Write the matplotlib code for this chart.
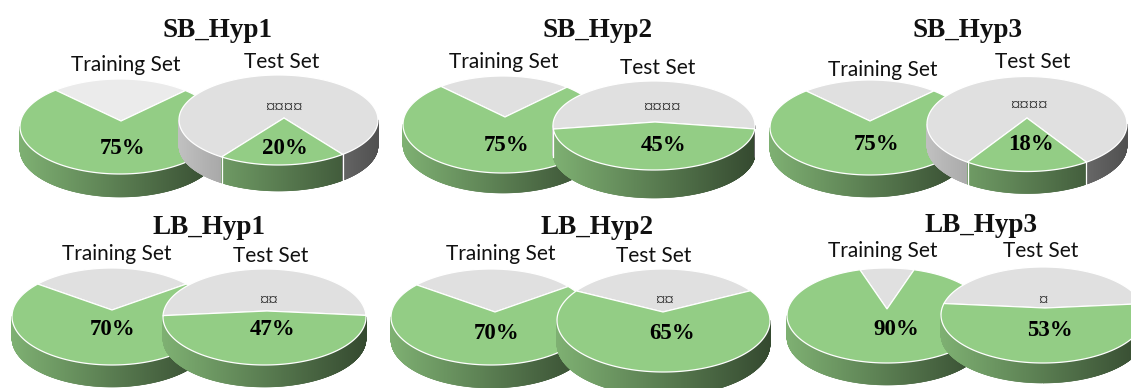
import numpy as np
import matplotlib
matplotlib.use("Agg")
import matplotlib.pyplot as plt
from matplotlib.collections import PolyCollection

# percentages shown on each chart
titles = ["SB_Hyp1", "SB_Hyp2", "SB_Hyp3", "LB_Hyp1", "LB_Hyp2", "LB_Hyp3"]
train_pct = [75, 75, 75, 70, 70, 90]
test_pct = [20, 45, 18, 47, 65, 53]
test_marks = ["¤¤¤¤", "¤¤¤¤", "¤¤¤¤", "¤¤", "¤¤", "¤"]

# pie placement in pixels: cx, cy, rx, ry, depth, apex x, apex y
train_geom = [
    (120, 126.5, 100, 47.5, 23, 121, 121),
    (503, 124.5, 100, 48.5, 20, 505, 117),
    (870, 127.5, 100, 47.5, 22, 870, 121),
    (112, 316.5, 100, 48.5, 22, 112, 310),
    (491, 317, 100, 48, 23, 495, 312),
    (887, 315.5, 100, 47.5, 22, 887, 309),
]
test_geom = [
    (278.5, 120, 99.5, 45, 26, 284, 118),
    (654, 125.5, 101, 44.5, 28, 655, 122),
    (1027, 124, 100, 47.5, 22, 1027, 118),
    (264.5, 317, 101.5, 48, 22, 267, 311),
    (663.5, 320.5, 106.5, 51.5, 24, 663, 312),
    (1043, 315, 102, 48, 20, 1045, 308),
]

# text anchors in pixels: x, baseline y
title_pos = [(217, 37), (597, 37), (968, 37), (209, 234), (597, 234), (981, 232)]
train_label_pos = [(126, 71), (504, 68), (883, 76), (117, 260), (501, 260), (883, 257)]
test_label_pos = [(282, 68), (658, 74), (1033, 68), (271, 262), (654, 262), (1041, 257)]
train_pct_pos = [(123, 154), (507, 151), (877, 150), (113, 335), (497, 339), (896, 335)]
test_pct_pos = [(285, 154), (664, 151), (1031, 150), (273, 335), (672, 339), (1050, 336)]
mark_pos = [(284, 108), (662, 108), (1029, 106), (269, 301), (665, 301), (1043, 301)]

GREEN = np.array([147, 205, 133]) / 255
GREY = np.array([224, 224, 224]) / 255
SERIF = "Liberation Serif"
SANS = "Lato"


def rim_point(theta, geom):
    # theta in degrees from the front of the pie; the disk is warped so its
    # centre lands on the apex, which gives the tilted perspective look
    cx, cy, rx, ry, depth, ax_, ay_ = geom
    a = (ax_ - cx) / rx
    e = (cy - ay_) / ry
    t = np.radians(theta)
    u, w = np.sin(t), -np.cos(t)
    x1 = (u + a) / (1 + a * u)
    y1 = w * np.sqrt(1 - a ** 2) / (1 + a * u)
    x2 = x1 * np.sqrt(1 - e ** 2) / (1 + e * y1)
    y2 = (y1 + e) / (1 + e * y1)
    return cx + rx * x2, cy - ry * y2, y2


def draw_pie(ax, pct, geom, grey=GREY):
    cx, cy, rx, ry, depth, ax_, ay_ = geom
    half = 180 * pct / 100

    # side wall, shaded from light on the left to dark on the right
    thetas = np.linspace(-180, 180, 1441)
    px, py, up = rim_point(thetas, geom)
    polys, colors = [], []
    for i in range(len(thetas) - 1):
        if up[i] > 0 and up[i + 1] > 0:
            continue
        mid = (thetas[i] + thetas[i + 1]) / 2
        base = GREEN if abs(mid) < half else grey
        xn = ((px[i] + px[i + 1]) / 2 - cx) / rx
        polys.append([(px[i], py[i]), (px[i + 1], py[i + 1]),
                      (px[i + 1], py[i + 1] + depth), (px[i], py[i] + depth)])
        colors.append(base * (0.61 - 0.25 * xn))
    ax.add_collection(PolyCollection(polys, facecolors=colors, edgecolors=colors,
                                     linewidths=0.4, zorder=ax.pie_z))
    # white seams where the side wall changes slice
    for sign in (-1, 1):
        ex, ey, eu = rim_point(sign * half, geom)
        if eu < 0:
            ax.plot([ex, ex], [ey, ey + depth], color="white", lw=0.9, zorder=ax.pie_z)

    # top faces
    arc = np.linspace(-half, half, 200)
    gx, gy, _ = rim_point(arc, geom)
    arc2 = np.linspace(half, 360 - half, 200)
    hx, hy, _ = rim_point(arc2, geom)
    ax.fill(np.r_[ax_, hx], np.r_[ay_, hy], facecolor=grey, edgecolor="white",
            lw=0.9, zorder=ax.pie_z)
    ax.fill(np.r_[ax_, gx], np.r_[ay_, gy], facecolor=GREEN, edgecolor="white",
            lw=0.9, zorder=ax.pie_z)
    ax.pie_z += 1


fig = plt.figure(figsize=(11.31, 3.88), dpi=100)
ax = fig.add_axes([0, 0, 1, 1])
ax.set_xlim(0, 1131)
ax.set_ylim(388, 0)
ax.axis("off")
ax.pie_z = 1

for i in range(6):
    # the first training pie has a slightly paler slice
    train_grey = np.array([235, 235, 235]) / 255 if i == 0 else GREY
    draw_pie(ax, train_pct[i], train_geom[i], train_grey)
    draw_pie(ax, test_pct[i], test_geom[i])

    ax.text(*title_pos[i], titles[i], family=SERIF, weight="bold", fontsize=19.5,
            ha="center", va="baseline", color="#111111", zorder=50)
    ax.text(*train_label_pos[i], "Training Set", family=SANS, fontsize=15,
            ha="center", va="baseline", color="#111111", zorder=50)
    ax.text(*test_label_pos[i], "Test Set", family=SANS, fontsize=15,
            ha="center", va="baseline", color="#111111", zorder=50)
    ax.text(*train_pct_pos[i], f"{train_pct[i]}%", family=SERIF, weight="bold", fontsize=16.5,
            ha="center", va="baseline", color="black", zorder=50)
    ax.text(*test_pct_pos[i], f"{test_pct[i]}%", family=SERIF, weight="bold", fontsize=16.5,
            ha="center", va="baseline", color="black", zorder=50)
    ax.text(*mark_pos[i], test_marks[i], family=SERIF, fontsize=13.5,
            ha="center", va="center", color="#222222", zorder=50)

fig.savefig("out.png", dpi=100)
